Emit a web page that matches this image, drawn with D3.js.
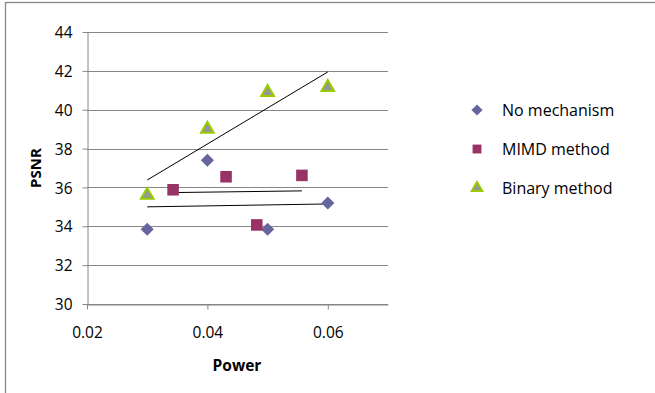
<!DOCTYPE html>
<html>
<head>
<meta charset="utf-8">
<script src="https://cdn.jsdelivr.net/npm/d3@7"></script>
<style>
  body { margin: 0; background: #fff; }
  svg { display: block; font-family: "Open Sans", "Liberation Sans", sans-serif; }
</style>
</head>
<body>
<svg id="chart" width="655" height="393"></svg>
<script>
// chart data
const noMechX = [0.03, 0.04, 0.05, 0.06];
const noMechY = [33.85, 37.4, 33.85, 35.2];
const mimdX = [0.0343, 0.0431, 0.0482, 0.0557];
const mimdY = [35.88, 36.55, 34.07, 36.62];
const binaryX = [0.03, 0.04, 0.05, 0.06];
const binaryY = [35.6, 39.0, 40.9, 41.15];
const xTicks = [0.02, 0.04, 0.06];
const yTicks = [30, 32, 34, 36, 38, 40, 42, 44];
const seriesNames = ['No mechanism', 'MIMD method', 'Binary method'];

const svg = d3.select('#chart');

// outer frame (only left + top edges show in the picture)
svg.append('rect')
    .attr('x', 5.5).attr('y', 2.5)
    .attr('width', 700).attr('height', 450)
    .attr('fill', 'none')
    .attr('stroke', '#888')
    .attr('stroke-width', 1.3);

const x = d3.scaleLinear().domain([0.02, 0.07]).range([87, 388]);
const y = d3.scaleLinear().domain([30, 44]).range([304, 32]);

// gridlines
svg.append('g')
    .selectAll('line')
    .data(yTicks)
    .enter()
    .append('line')
    .attr('x1', x(0.02)).attr('x2', x(0.07))
    .attr('y1', d => Math.round(y(d)) + 0.5)
    .attr('y2', d => Math.round(y(d)) + 0.5)
    .attr('stroke', '#868686');

// axes
const yAxis = svg.append('g')
    .attr('transform', `translate(${x(0.02) + 0.5},0)`)
    .call(d3.axisLeft(y).tickValues(yTicks).tickSize(5).tickSizeOuter(0).tickFormat(d3.format('d')));
const xAxis = svg.append('g')
    .attr('transform', `translate(0,${Math.round(y(30)) + 0.5})`)
    .call(d3.axisBottom(x).tickValues(xTicks).tickSize(5).tickSizeOuter(0).tickFormat(d3.format('.2f')));

[xAxis, yAxis].forEach(ax => {
    ax.select('.domain').attr('stroke', '#868686');
    ax.selectAll('.tick line').attr('stroke', '#868686');
    ax.selectAll('.tick text')
        .attr('fill', '#000')
        .style('font-size', '15.5px')
        .style('font-family', '"Open Sans", sans-serif');
});
yAxis.selectAll('.tick text').attr('x', -15).attr('dy', '0.36em');
xAxis.selectAll('.tick text').attr('y', 22).attr('dy', '0.71em');

// axis titles
svg.append('text')
    .attr('x', 237).attr('y', 371)
    .attr('text-anchor', 'middle')
    .style('font-size', '15.5px').style('font-weight', 'bold')
    .text('Power');
svg.append('text')
    .attr('transform', 'translate(41,168) rotate(-90)')
    .attr('text-anchor', 'middle')
    .style('font-size', '15px').style('font-weight', 'bold')
    .text('PSNR');

// linear trendlines (least squares fit over each series' x extent)
function fitLine(xs, ys) {
    const mx = d3.mean(xs), my = d3.mean(ys);
    const slope = d3.sum(xs, (v, i) => (v - mx) * (ys[i] - my)) / d3.sum(xs, v => (v - mx) * (v - mx));
    const [x0, x1] = d3.extent(xs);
    return [[x0, my + slope * (x0 - mx)], [x1, my + slope * (x1 - mx)]];
}
const line = d3.line().x(d => x(d[0])).y(d => y(d[1]));
[[noMechX, noMechY], [mimdX, mimdY], [binaryX, binaryY]].forEach(([xs, ys]) => {
    svg.append('path')
        .attr('d', line(fitLine(xs, ys)))
        .attr('fill', 'none')
        .attr('stroke', '#000')
        .attr('stroke-width', 1);
});

// marker styles
const markers = [
    { shape: d3.symbolDiamond2, size: 110, fill: '#66669e', stroke: 'none' },
    { shape: d3.symbolSquare2, size: 170, fill: '#993366', stroke: 'none' },
    { shape: d3.symbolTriangle2, size: 115, fill: '#969696', stroke: '#99cc00' }
];
const seriesData = [
    d3.zip(noMechX, noMechY),
    d3.zip(mimdX, mimdY),
    d3.zip(binaryX, binaryY)
];

seriesData.forEach((pts, i) => {
    const m = markers[i];
    svg.append('g')
        .selectAll('path')
        .data(pts)
        .enter()
        .append('path')
        .attr('transform', d => `translate(${x(d[0])},${y(d[1])})`)
        .attr('d', d3.symbol(m.shape, m.size)())
        .attr('fill', m.fill)
        .attr('stroke', m.stroke)
        .attr('stroke-width', 2);
});

// legend
const legendY = [110, 149, 188];
seriesNames.forEach((name, i) => {
    const m = markers[i];
    const g = svg.append('g').attr('transform', `translate(477,${legendY[i]})`);
    g.append('path')
        .attr('d', d3.symbol(m.shape, i === 1 ? 100 : 80)())
        .attr('fill', m.fill)
        .attr('stroke', m.stroke)
        .attr('stroke-width', 2);
    g.append('text')
        .attr('x', 25).attr('dy', '0.35em')
        .style('font-size', '16px')
        .text(name);
});
</script>
</body>
</html>
